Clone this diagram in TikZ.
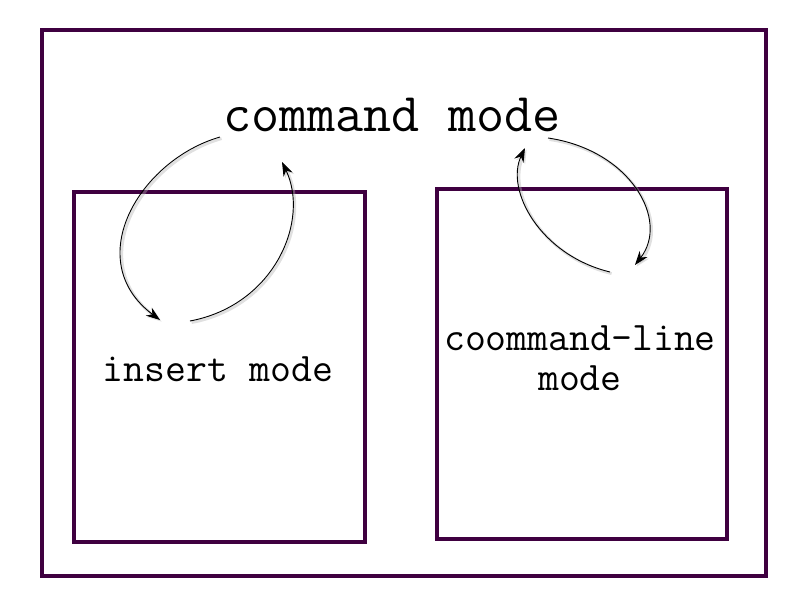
\documentclass[tikz,border=0pt]{standalone}
\usepackage{tikz}
\usetikzlibrary{arrows.meta}
\definecolor{framepurple}{HTML}{3F0040}

\begin{document}
\begin{tikzpicture}[x=0.5pt,y=-0.5pt,
  box/.style={draw=framepurple,line width=1.55pt},
  modetext/.style={font=\ttfamily\fontsize{20.3}{20}\selectfont,align=center},
  flow/.style={black,line width=0.45pt,-{Stealth[length=7pt,width=5pt]},
    preaction={draw=black!30,line width=1.4pt,opacity=0.4,
      transform canvas={shift={(0.8pt,-0.8pt)}}}}]

  \useasboundingbox (0,0) rectangle (800,600);

  \draw[box,line width=1.75pt] (42,30) rectangle (766,576);
  \draw[box] (74,192) rectangle (365,542);
  \draw[box] (437,189) rectangle (727,539);

  \draw (392,115) node[font=\ttfamily\fontsize{27.3}{30}\selectfont] (cmd) {command mode};
  \draw (218,369) node[modetext] (ins) {insert mode};
  \draw (580,358) node[modetext] (cline) {coommand-line\\mode};

  % end points of the arrows
  \coordinate (cmdl) at (220,137);
  \coordinate (cmdli) at (282,162);
  \coordinate (cmdr) at (548,138);
  \coordinate (cmdri) at (525,148);
  \coordinate (insin) at (160,320);
  \coordinate (insout) at (190,321);
  \coordinate (clin) at (635,265);
  \coordinate (clout) at (610,272);

  \draw[flow] (cmdl) .. controls (140,160) and (80,260) .. (insin);
  \draw[flow] (insout) .. controls (275,305) and (310,220) .. (cmdli);
  \draw[flow] (cmdr) .. controls (630,150) and (670,220) .. (clin);
  \draw[flow] (clout) .. controls (540,255) and (505,190) .. (cmdri);

\end{tikzpicture}
\end{document}
